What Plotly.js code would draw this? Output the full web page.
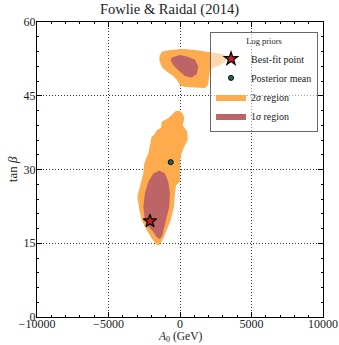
<!DOCTYPE html>
<html>
<head>
<meta charset="utf-8">
<script src="https://cdn.plot.ly/plotly-3.0.1.min.js"></script>
<style>html,body{margin:0;padding:0;background:#fff;}#chart{width:339px;height:345px;}</style>
</head>
<body>
<div id="chart"></div>
<script>
// 2 sigma region polygons (A0 in GeV, tan beta)
var sig2UpperA0 = [-1434,-1259,-699,210,1049,1888,2448,2937,3287,3217,2797,2378,2098,2028,1958,1748,1049,350,0,-210,-559,-909,-1259,-1434];
var sig2UpperTb = [53.1,54.0,54.3,54.5,54.3,53.9,53.7,53.5,53.1,52.1,51.2,50.8,50.2,48.6,47.2,46.6,46.7,46.8,47.2,48.2,49.2,49.9,50.8,52.1];
var sig2LowerA0 = [-300,0,189,301,189,510,538,280,119,0,0,-280,-350,-420,-650,-930,-1165,-1445,-1680,-1980,-2330,-2680,-2845,-2985,-2800,-2565,-2495,-2215,-2100,-1980,-1820,-1630,-1330,-1280,-820,-470];
var sig2LowerTb = [41.9,41.9,41.4,40.4,39.0,37.7,36.0,34.6,33.3,31.9,27.5,26.8,25.2,22.4,19.7,17.7,16.0,14.6,14.8,16.0,17.7,19.7,21.8,24.5,26.8,29.2,31.3,33.3,35.0,36.7,37.0,38.0,38.5,39.7,40.4,41.4];
// 1 sigma region polygons
var sig1UpperA0 = [-580,0,580,1049,1280,1168,818,350,-119,-468,-650];
var sig1UpperTb = [52.8,53.3,52.9,52.3,50.9,49.4,48.7,49.0,50.2,51.2,52.2];
var sig1LowerA0 = [-1445,-1050,-820,-700,-750,-930,-1100,-1235,-1400,-1630,-1865,-2215,-2450,-2565,-2450,-2215,-1865];
var sig1LowerTb = [29.8,29.2,27.5,25.2,22.4,20.4,18.4,16.7,15.8,16.2,17.3,18.4,19.7,22.4,25.2,27.5,29.2];
// points
var bestFitA0 = [-2100];
var bestFitTb = [19.5];
var meanA0 = [-650];
var meanTb = [31.5];
var xTicks = [-10000,-5000,0,5000,10000];
var yTicks = [0,15,30,45,60];

function lbl(v){ return (v < 0 ? '\u2212' : '') + Math.abs(v); }
var font = "'Liberation Serif','DejaVu Serif',serif";
var traces = [
  {x: sig2UpperA0.concat([null]).concat(sig2LowerA0), y: sig2UpperTb.concat([null]).concat(sig2LowerTb),
   type:'scatter', mode:'lines', fill:'toself', fillcolor:'#fdab4c', line:{width:0, color:'#fdab4c'},
   name:'2<i>σ</i> region', legendrank:3, hoverinfo:'skip'},
  {x: sig1UpperA0.concat([null]).concat(sig1LowerA0), y: sig1UpperTb.concat([null]).concat(sig1LowerTb),
   type:'scatter', mode:'lines', fill:'toself', fillcolor:'#bd6566', line:{width:0, color:'#bd6566'},
   name:'1<i>σ</i> region', legendrank:4, hoverinfo:'skip'},
  {x: bestFitA0, y: bestFitTb, type:'scatter', mode:'markers',
   marker:{symbol:'star', size:10, color:'#c8201e', line:{color:'#000', width:1.2}},
   name:'Best-fit point', legendrank:1},
  {x: meanA0, y: meanTb, type:'scatter', mode:'markers',
   marker:{symbol:'circle', size:5, color:'#1f6f4f', line:{color:'#000', width:1}},
   name:'Posterior mean', legendrank:2}
];
var axisCommon = {
  showline:true, linecolor:'#000', linewidth:1, mirror:'ticks',
  ticks:'inside', ticklen:5, tickcolor:'#000',
  showgrid:true, gridcolor:'#333', griddash:'1px,2px', gridwidth:1,
  zeroline:false, tickfont:{family:font, size:12, color:'#222'}, automargin:false
};
var layout = {
  width:339, height:345,
  margin:{l:37, r:16, t:22, b:28},
  paper_bgcolor:'#fff', plot_bgcolor:'#fff',
  title:{text:'Fowlie &amp; Raidal (2014)', font:{family:font, size:14.5, color:'#222'}, x:0.5, xanchor:'center', y:0.99, yanchor:'top'},
  xaxis: Object.assign({}, axisCommon, {
    range:[-10000,10000], tickmode:'array', tickvals:xTicks, ticktext:xTicks.map(lbl),
    minor:{dtick:1000, ticks:'inside', ticklen:2, tickcolor:'#000', showgrid:false},
    ticklabelstandoff:-4
  }),
  yaxis: Object.assign({}, axisCommon, {
    range:[0,60], tickmode:'array', tickvals:yTicks, ticktext:yTicks.map(lbl),
    minor:{dtick:3, ticks:'inside', ticklen:2, tickcolor:'#000', showgrid:false},
    ticklabelstandoff:-2
  }),
  annotations:[
    {text:'<i>A</i><sub>0</sub> (GeV)', xref:'paper', yref:'paper', x:0.5, y:-0.0949, xanchor:'center', yanchor:'bottom', showarrow:false, borderpad:0, font:{family:font, size:11.5, color:'#222'}},
    {text:'tan <i>β</i>', xref:'paper', yref:'paper', x:-0.085, y:0.5, xanchor:'center', yanchor:'middle', textangle:-90, showarrow:false, font:{family:font, size:13, color:'#222'}}
  ],
  showlegend:true,
  legend:{x:0.605, y:0.965, xanchor:'left', yanchor:'top',
    bgcolor:'rgba(255,255,255,0.55)', bordercolor:'#666', borderwidth:1,
    font:{family:font, size:10, color:'#222'},
    title:{text:'Log priors', font:{family:font, size:8.5, color:'#222'}, side:'top center'},
    tracegroupgap:0, itemwidth:30}
};
Plotly.newPlot('chart', traces, layout, {staticPlot:true, displayModeBar:false});
</script>
</body>
</html>
